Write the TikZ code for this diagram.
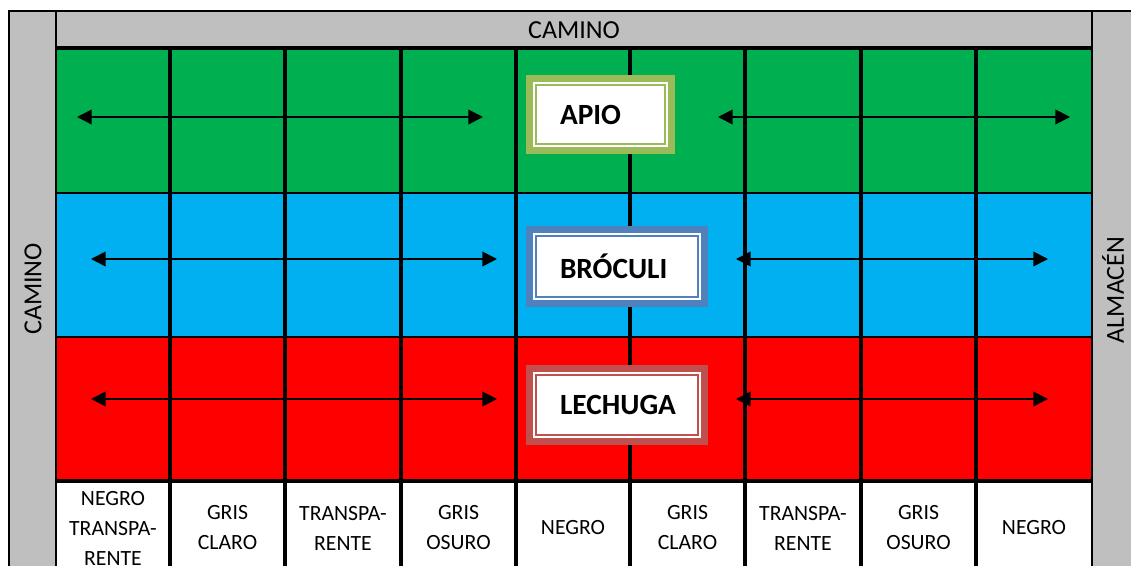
\documentclass[tikz,border=0pt]{standalone}
\usepackage{fontspec}
\setmainfont{Carlito}
\usetikzlibrary{arrows.meta}
\definecolor{verde}{HTML}{00B050}
\definecolor{azul}{HTML}{00B0F0}
\definecolor{rojo}{HTML}{FF0000}
\definecolor{gris}{HTML}{BFBFBF}
\definecolor{olivo}{HTML}{9BBB59}
\definecolor{acero}{HTML}{4F81BD}
\definecolor{ladrillo}{HTML}{C0504D}
\begin{document}
\begin{tikzpicture}[x=0.75pt, y=-0.75pt, >={Triangle[length=11pt,width=11pt]},
	lab/.style={align=center, font=\fontsize{16.3}{22.5}\selectfont, inner sep=0pt},
	via/.style={inner sep=0pt, font=\fontsize{19.5}{24}\selectfont},
	veg/.style={fill=white, draw=#1, line width=1.5pt,
		preaction={draw=#1, line width=15pt},
		preaction={draw=white, line width=4.5pt},
		font=\fontsize{22}{26}\selectfont\bfseries, align=left, inner xsep=18pt, inner ysep=0pt}]
	\useasboundingbox (0,0) rectangle (1131,566);
	
	% fondo y franjas
	\fill[gris] (9,11) rectangle (1131,566);
	\foreach \a/\b/\c in {48/193/verde,193/337/azul,337/481/rojo}
	\fill[\c] (56,\a) rectangle (1092,\b);
	\fill[white] (56,481) rectangle (1092,566);
	
	% rejilla
	\foreach \x in {170,285,401,516,630,745,861,976}
	\draw[line width=2.6pt] (\x,48) -- (\x,566);
	\draw[line width=2.5pt] (56,48) -- (1092,48) (56,481) -- (1092,481);
	\draw[line width=1.3pt] (56,193) -- (1092,193) (56,337) -- (1092,337);
	\draw[line width=2pt] (9,566) -- (9,11) -- (1131,11);
	\draw[line width=1.3pt] (56,11) -- (56,566) (1092,11) -- (1092,566);
	
	% flechas
	\foreach \r/\y/\a/\b/\c/\d in {g/117/77/483/718/1070, b/259/91/497/736/1048, r/399/91/497/736/1048}{
		\path (\a,\y) coordinate (\r1) (\b,\y) coordinate (\r2)
		(\c,\y) coordinate (\r3) (\d,\y) coordinate (\r4);
		\draw[<->, line width=1.3pt] (\r1) -- (\r2);
		\draw[<->, line width=1.3pt] (\r3) -- (\r4);
	}
	
	% cultivos
	\node[veg=olivo, text width=60.75pt, minimum height=44.25pt] (apio) at (600.5,115) {APIO};
	\node[veg=acero, text width=85.5pt, minimum height=45.75pt] (broculi) at (617,266.5) {BRÓCULI};
	\node[veg=ladrillo, text width=85.5pt, minimum height=45pt] (lechuga) at (617,405) {LECHUGA};
	
	% caminos
	\node[via] (arriba) at (574,30) {CAMINO};
	\node[via, rotate=90] (izq) at (33,289) {CAMINO};
	\node[via, rotate=90] (der) at (1113,290) {ALMACÉN};
	
	% plasticos
	\foreach \x/\t [count=\i] in {113/{NEGRO\\TRANSPA-\\RENTE}, 227.5/{GRIS\\CLARO},
		343/{TRANSPA-\\RENTE}, 458.5/{GRIS\\OSURO}, 573/NEGRO, 687.5/{GRIS\\CLARO},
		803/{TRANSPA-\\RENTE}, 918.5/{GRIS\\OSURO}, 1034/NEGRO}
	\node[lab] (p\i) at (\x,528) {\t};
\end{tikzpicture}
\end{document}
